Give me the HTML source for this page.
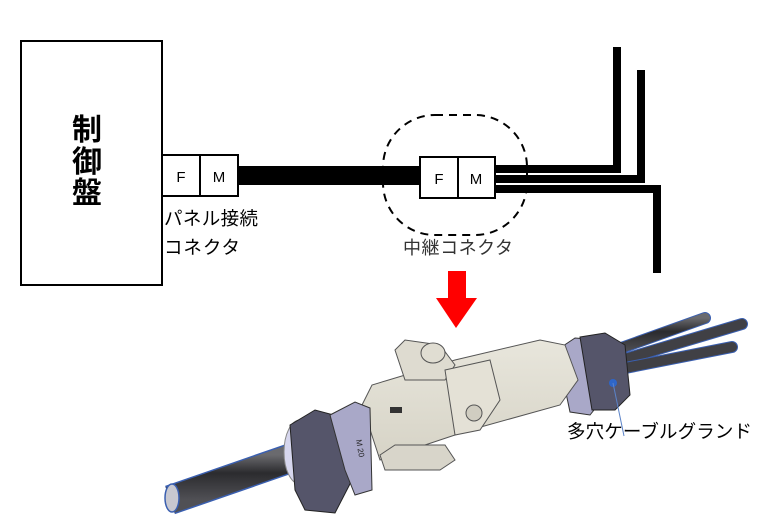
<!DOCTYPE html>
<html><head><meta charset="utf-8"><style>
body{margin:0;background:#fff;width:784px;height:530px;overflow:hidden;font-family:"Liberation Sans","Noto Sans CJK JP",sans-serif}
</style></head><body>
<svg width="784" height="530" viewBox="0 0 784 530" xmlns="http://www.w3.org/2000/svg" style="position:absolute;left:0;top:0">
<defs>
<linearGradient id="cab" x1="0" y1="0" x2="0" y2="1"><stop offset="0" stop-color="#6a6a6e"/><stop offset="0.4" stop-color="#2b2b2e"/><stop offset="1" stop-color="#505055"/></linearGradient>
<linearGradient id="body" x1="0" y1="0" x2="0" y2="1"><stop offset="0" stop-color="#e8e6dc"/><stop offset="1" stop-color="#d6d3c6"/></linearGradient>
</defs>
<rect x="21" y="41" width="141" height="244" fill="#fff" stroke="#000" stroke-width="2"/>
<text font-size="30" font-weight="bold" x="87" y="140" text-anchor="middle">制</text>
<text font-size="30" font-weight="bold" x="87" y="172" text-anchor="middle">御</text>
<text font-size="30" font-weight="bold" x="87" y="203" text-anchor="middle">盤</text>
<rect x="162" y="155" width="76" height="41" fill="#fff" stroke="#000" stroke-width="2"/>
<line x1="200" y1="155" x2="200" y2="196" stroke="#000" stroke-width="2"/>
<text x="181" y="182" font-size="15" text-anchor="middle">F</text>
<text x="219" y="182" font-size="15" text-anchor="middle">M</text>
<text x="164" y="225" font-size="18.5" textLength="94">パネル接続</text>
<text x="164" y="254" font-size="18.5" textLength="76">コネクタ</text>
<rect x="238" y="166" width="182" height="19" fill="#000"/>
<rect x="383" y="115" width="144" height="120" rx="52" ry="52" fill="none" stroke="#000" stroke-width="2" stroke-dasharray="8,6"/>
<rect x="420" y="157" width="75" height="41" fill="#fff" stroke="#000" stroke-width="2"/>
<line x1="458" y1="157" x2="458" y2="198" stroke="#000" stroke-width="2"/>
<text x="439" y="184" font-size="15" text-anchor="middle">F</text>
<text x="476" y="184" font-size="15" text-anchor="middle">M</text>
<text x="403" y="254" font-size="18" fill="#333" textLength="110">中継コネクタ</text>
<path d="M495 169 H617 V47" fill="none" stroke="#000" stroke-width="8"/>
<path d="M495 179 H641 V70" fill="none" stroke="#000" stroke-width="8"/>
<path d="M495 189 H657 V273" fill="none" stroke="#000" stroke-width="8"/>
<rect x="448" y="271" width="18" height="27" fill="#f00"/>
<polygon points="436,298 477,298 456,328" fill="#f00"/>
<g stroke-linecap="round">
<line x1="610" y1="352" x2="705" y2="318" stroke="#3a5fb0" stroke-width="12"/>
<line x1="610" y1="352" x2="705" y2="318" stroke="url(#cab)" stroke-width="10"/>
<line x1="615" y1="362" x2="742" y2="324" stroke="#3a5fb0" stroke-width="12"/>
<line x1="615" y1="362" x2="742" y2="324" stroke="#404045" stroke-width="10"/>
<line x1="615" y1="370" x2="732" y2="347" stroke="#3a5fb0" stroke-width="12"/>
<line x1="615" y1="370" x2="732" y2="347" stroke="#404045" stroke-width="10"/>
</g>
<polygon points="557,350 575,338 600,340 606,395 590,415 570,412" fill="#a9a8c8" stroke="#333" stroke-width="1"/>
<polygon points="580,337 605,333 625,345 630,395 615,410 592,410" fill="#55556a" stroke="#222" stroke-width="1"/>
<polygon points="362,405 372,385 455,360 540,340 565,345 578,380 560,405 470,430 440,440 380,460" fill="url(#body)" stroke="#555" stroke-width="1"/>
<polygon points="395,350 405,340 440,345 455,365 445,380 405,380" fill="#dedbd0" stroke="#555" stroke-width="1"/>
<ellipse cx="433" cy="353" rx="12" ry="10" fill="#e0ddd2" stroke="#555"/>
<polygon points="445,370 490,360 500,400 480,430 455,435" fill="#e4e1d6" stroke="#555"/>
<circle cx="474" cy="413" r="8" fill="#d0cdc1" stroke="#555"/>
<polygon points="380,455 395,445 445,445 455,460 440,470 385,470" fill="#d8d5ca" stroke="#555"/>
<rect x="390" y="407" width="12" height="6" fill="#333"/>
<line x1="170" y1="500" x2="300" y2="455" stroke="#3a5fb0" stroke-width="30"/>
<line x1="170" y1="500" x2="300" y2="455" stroke="url(#cab)" stroke-width="27"/>
<ellipse cx="172" cy="498" rx="7" ry="14" fill="#c8c8d0" stroke="#3a5fb0" stroke-width="1.5"/>
<ellipse cx="300" cy="452" rx="16" ry="32" fill="#d6d6ee" stroke="#888"/>
<polygon points="290,425 315,410 345,418 352,480 335,513 305,510 295,490" fill="#55556a" stroke="#222"/>
<polygon points="330,415 355,402 370,408 372,490 355,495 345,470" fill="#a9a8c8" stroke="#333"/>
<text x="356" y="440" font-size="8" transform="rotate(80 356 440)" fill="#222">M 20</text>
<circle cx="613" cy="383" r="4" fill="#2e66c8"/>
<line x1="613" y1="383" x2="624" y2="436" stroke="#5b83c8" stroke-width="1"/>
<text x="567" y="438" font-size="18.5" fill="#000" textLength="185">多穴ケーブルグランド</text>
</svg>
</body></html>
